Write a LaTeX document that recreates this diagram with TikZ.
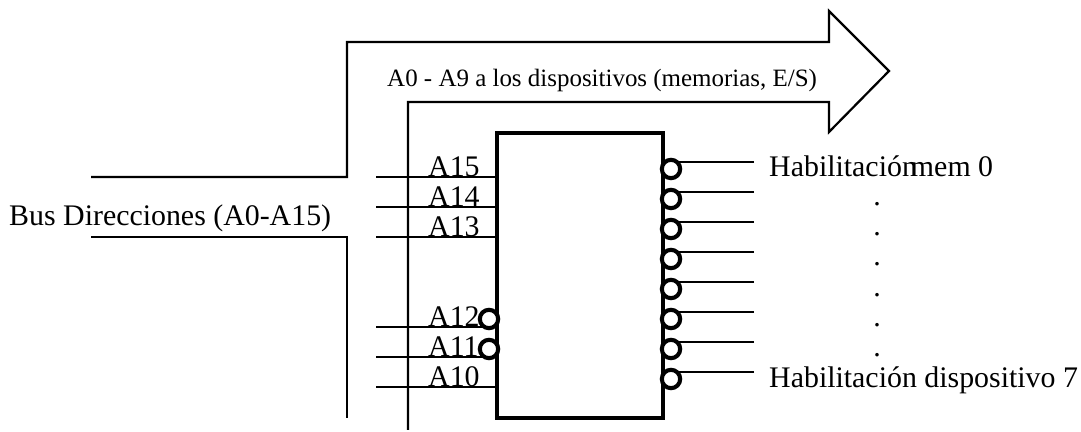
\documentclass[tikz,border=0pt]{standalone}
\usepackage{fontspec}
\setmainfont{Liberation Serif}
\tikzset{
  wire/.style={line width=1.9pt},
  busline/.style={line width=1.9pt, line join=miter},
  chipbox/.style={draw, line width=3.9pt, inner sep=0pt, minimum width=4.98cm, minimum height=8.55cm},
  negbubble/.style={circle, draw, fill=white, line width=3.5pt, inner sep=0pt, minimum size=0.55cm},
  pinlabel/.style={anchor=base west, inner sep=0pt, font=\fontsize{25.5pt}{30pt}\selectfont},
  buslabel/.style={anchor=base west, inner sep=0pt, font=\fontsize{25.5pt}{30pt}\selectfont},
  toplabel/.style={anchor=base west, inner sep=0pt, font=\fontsize{21.3pt}{25pt}\selectfont},
  dotlabel/.style={inner sep=0pt, anchor=base, font=\fontsize{25.5pt}{30pt}\selectfont}
}
\begin{document}
\begin{tikzpicture}[x=0.03cm,y=0.03cm]
\useasboundingbox (0,0) rectangle (1081,-432);
% bus
\coordinate (busa) at (91,-177);
\coordinate (busb) at (347,-177);
\coordinate (busc) at (347,-42);
\coordinate (busd) at (829,-42);
\coordinate (buse) at (829,-11);
\coordinate (tip) at (889,-71);
\coordinate (busf) at (829,-132);
\coordinate (busg) at (829,-102);
\coordinate (bush) at (408,-102);
\coordinate (busi) at (408,-430);
\coordinate (busj) at (91,-237);
\coordinate (busk) at (347,-237);
\coordinate (busl) at (347,-418);
\draw [busline] (busa) -- (busb) -- (busc) -- (busd) -- (buse) -- (tip) -- (busf) -- (busg) -- (bush) -- (busi);
\draw [busline] (busj) -- (busk) -- (busl);
\node (busname) [buslabel] at (9,-226) {Bus Direcciones (A0-A15)};
\node (toptext) [toplabel] at (387,-87) {A0 - A9 a los dispositivos (memorias, E/S)};
% decoder
\node (chip) [chipbox] at (580,-275.5) {};
% inputs
\coordinate (in15) at (376,-177);
\coordinate (in14) at (376,-207);
\coordinate (in13) at (376,-237);
\coordinate (in12) at (376,-327);
\coordinate (in11) at (376,-357);
\coordinate (in10) at (376,-387);
\draw [wire] (in15) -- (in15 -| chip.west);
\draw [wire] (in14) -- (in14 -| chip.west);
\draw [wire] (in13) -- (in13 -| chip.west);
\draw [wire] (in12) -- (in12 -| chip.west);
\draw [wire] (in11) -- (in11 -| chip.west);
\draw [wire] (in10) -- (in10 -| chip.west);
\node (a15) [pinlabel] at (428,-177) {A15};
\node (a14) [pinlabel] at (428,-207) {A14};
\node (a13) [pinlabel] at (428,-237) {A13};
\node (a12) [pinlabel] at (428,-327) {A12};
\node (a11) [pinlabel] at (428,-357) {A11};
\node (a10) [pinlabel] at (428,-387) {A10};
\node (neg12) [negbubble] at (489,-319) {};
\node (neg11) [negbubble] at (489,-349) {};
% outputs
\coordinate (out0) at (754,-162);
\coordinate (out1) at (754,-192);
\coordinate (out2) at (754,-222);
\coordinate (out3) at (754,-252);
\coordinate (out4) at (754,-282);
\coordinate (out5) at (754,-312);
\coordinate (out6) at (754,-342);
\coordinate (out7) at (754,-372);
\draw [wire] (out0) -- (out0 -| chip.east);
\draw [wire] (out1) -- (out1 -| chip.east);
\draw [wire] (out2) -- (out2 -| chip.east);
\draw [wire] (out3) -- (out3 -| chip.east);
\draw [wire] (out4) -- (out4 -| chip.east);
\draw [wire] (out5) -- (out5 -| chip.east);
\draw [wire] (out6) -- (out6 -| chip.east);
\draw [wire] (out7) -- (out7 -| chip.east);
\node (neg0) [negbubble] at (671,-169) {};
\node (neg1) [negbubble] at (671,-199) {};
\node (neg2) [negbubble] at (671,-229) {};
\node (neg3) [negbubble] at (671,-259) {};
\node (neg4) [negbubble] at (671,-289) {};
\node (neg5) [negbubble] at (671,-319) {};
\node (neg6) [negbubble] at (671,-349) {};
\node (neg7) [negbubble] at (671,-379) {};
\node (hab0) [pinlabel] at (769,-177) {Habilitación\kern-0.2em mem 0};
\node (hab7) [pinlabel] at (769,-388) {Habilitación dispositivo 7};
\node (dot1) [dotlabel] at (877,-206) {.};
\node (dot2) [dotlabel] at (877,-236) {.};
\node (dot3) [dotlabel] at (877,-266) {.};
\node (dot4) [dotlabel] at (877,-297) {.};
\node (dot5) [dotlabel] at (877,-327) {.};
\node (dot6) [dotlabel] at (877,-357) {.};
\end{tikzpicture}
\end{document}
